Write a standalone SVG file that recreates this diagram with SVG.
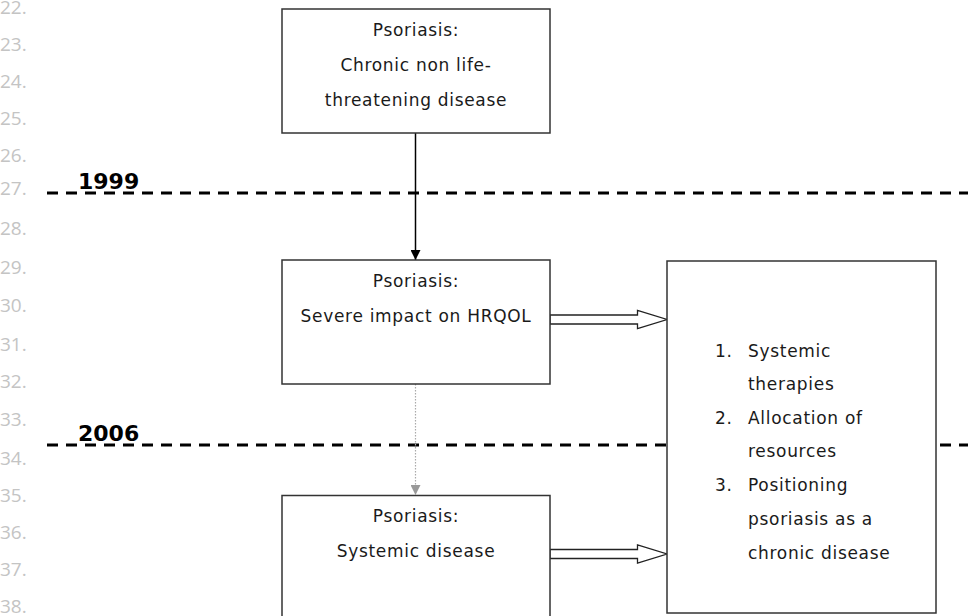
<svg xmlns="http://www.w3.org/2000/svg" width="968" height="616" viewBox="0 0 968 616">
<defs>
<style>
.ln{font-family:"Open Sans","DejaVu Sans",sans-serif;font-size:19px;fill:#c4c4c4}
.yr{font-family:"DejaVu Sans",Verdana,sans-serif;font-size:22px;font-weight:bold;fill:#000}
.t{font-family:"DejaVu Sans",Verdana,sans-serif;font-size:17px;letter-spacing:0.7px;fill:#1a1a1a}
.c{text-anchor:middle}
.box{fill:#fff;stroke:#333;stroke-width:1.5}
.dash{stroke:#000;stroke-width:3;stroke-dasharray:11 8;fill:none}
.hol{fill:#fff;stroke:#222;stroke-width:1.3;stroke-linejoin:miter}
</style>
<marker id="ah" viewBox="0 0 10 10" refX="10" refY="5" markerWidth="10" markerHeight="10" markerUnits="userSpaceOnUse" orient="auto">
<path d="M0,0 L10,5 L0,10 Z" fill="#000"/>
</marker>
<marker id="ahg" viewBox="0 0 10 10" refX="10" refY="5" markerWidth="10" markerHeight="10" markerUnits="userSpaceOnUse" orient="auto">
<path d="M0,0 L10,5 L0,10 Z" fill="#999"/>
</marker>
</defs>
<g id="line-numbers">
<text class="ln" x="0" y="14">22.</text>
<text class="ln" x="0" y="51">23.</text>
<text class="ln" x="0" y="88">24.</text>
<text class="ln" x="0" y="125">25.</text>
<text class="ln" x="0" y="162">26.</text>
<text class="ln" x="0" y="195">27.</text>
<text class="ln" x="0" y="235">28.</text>
<text class="ln" x="0" y="274">29.</text>
<text class="ln" x="0" y="312">30.</text>
<text class="ln" x="0" y="351">31.</text>
<text class="ln" x="0" y="388">32.</text>
<text class="ln" x="0" y="426">33.</text>
<text class="ln" x="0" y="465">34.</text>
<text class="ln" x="0" y="502">35.</text>
<text class="ln" x="0" y="539">36.</text>
<text class="ln" x="0" y="576">37.</text>
<text class="ln" x="0" y="613">38.</text>
</g>
<g id="timeline">
<line class="dash" x1="47" y1="193" x2="968" y2="193"/>
<text class="yr" x="78" y="189">1999</text>
<line class="dash" x1="47" y1="445" x2="968" y2="445"/>
<text class="yr" x="78" y="441">2006</text>
</g>
<g id="connectors">
<line x1="415.5" y1="133" x2="415.5" y2="260" stroke="#000" stroke-width="1.5" marker-end="url(#ah)"/>
<line x1="415.5" y1="384" x2="415.5" y2="495" stroke="#aaa" stroke-width="1.2" stroke-dasharray="1.5 1.5" marker-end="url(#ahg)"/>
<polygon class="hol" points="550,315 637.5,315 637.5,310.5 667,319.5 637.5,328.5 637.5,324 550,324"/>
<polygon class="hol" points="550,549.5 637.5,549.5 637.5,545 667,554 637.5,563 637.5,558.5 550,558.5"/>
</g>
<g id="node-chronic">
<rect class="box" x="282" y="9" width="268" height="124"/>
<text class="t c" x="416" y="36">Psoriasis:</text>
<text class="t c" x="416" y="71">Chronic non life-</text>
<text class="t c" x="416" y="106">threatening disease</text>
</g>
<g id="node-hrqol">
<rect class="box" x="282" y="260" width="268" height="124"/>
<text class="t c" x="416" y="287">Psoriasis:</text>
<text class="t c" x="416" y="322">Severe impact on HRQOL</text>
</g>
<g id="node-systemic">
<rect class="box" x="282" y="495.5" width="268" height="130"/>
<text class="t c" x="416" y="522">Psoriasis:</text>
<text class="t c" x="416" y="557">Systemic disease</text>
</g>
<g id="node-consequences">
<rect class="box" x="667" y="261" width="269" height="352"/>
<text class="t" x="715" y="357">1.</text>
<text class="t" x="748" y="357">Systemic</text>
<text class="t" x="748" y="390">therapies</text>
<text class="t" x="715" y="424">2.</text>
<text class="t" x="748" y="424">Allocation of</text>
<text class="t" x="748" y="457">resources</text>
<text class="t" x="715" y="491">3.</text>
<text class="t" x="748" y="491">Positioning</text>
<text class="t" x="748" y="525">psoriasis as a</text>
<text class="t" x="748" y="559">chronic disease</text>
</g>
</svg>
